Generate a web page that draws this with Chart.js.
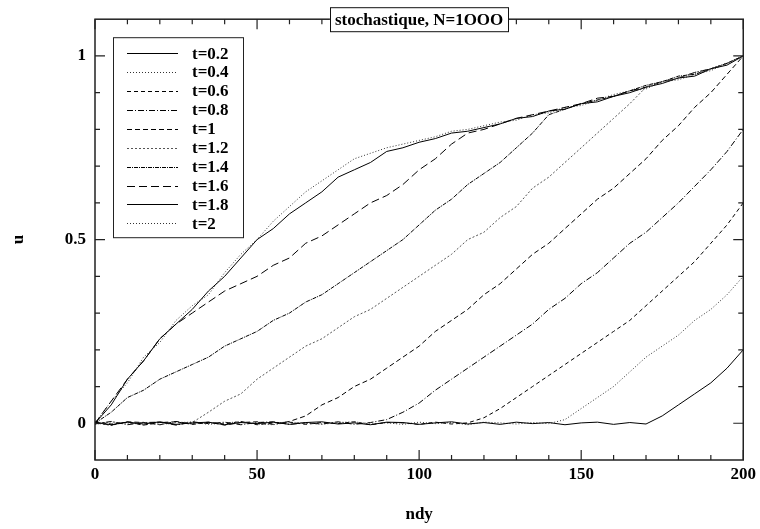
<!DOCTYPE html>
<html>
<head>
<meta charset="utf-8">
<script src="https://cdn.jsdelivr.net/npm/chart.js@4.4.0/dist/chart.umd.min.js"></script>
<style>
  html, body { margin: 0; padding: 0; background: #fff; }
  #wrap { width: 760px; height: 529px; }
</style>
</head>
<body>
<div id="wrap"><canvas id="chart" width="760" height="529"></canvas></div>
<script>
// ndy grid (every 5)
const ndy = [0,5,10,15,20,25,30,35,40,45,50,55,60,65,70,75,80,85,90,95,100,
             105,110,115,120,125,130,135,140,145,150,155,160,165,170,175,180,185,190,195,200];

const labels = ['t=0.2','t=0.4','t=0.6','t=0.8','t=1','t=1.2','t=1.4','t=1.6','t=1.8','t=2'];

const u02 = [0.002,-0.004,0.003,-0.002,0.004,-0.003,0.001,0.003,-0.004,0.002,-0.001,0.003,-0.003,0.002,0.004,
             -0.002,0.001,-0.004,0.003,0.002,-0.003,0.001,0.004,-0.002,0.002,-0.003,0.003,-0.001,0.002,-0.004,
             0.001,0.003,-0.003,0.002,-0.002,0.02,0.05,0.08,0.11,0.15,0.20];
const u04 = [-0.003,0.004,-0.002,0.003,-0.004,0.002,0.003,-0.003,0.001,0.004,-0.002,-0.004,0.003,0.001,-0.003,
             0.002,0.004,-0.002,0.001,-0.003,0.003,-0.001,0.002,-0.004,0.003,0.001,-0.002,0.002,-0.001,
             0.01,0.04,0.07,0.10,0.14,0.18,0.21,0.24,0.28,0.31,0.35,0.40];
const u06 = [0.004,-0.002,0.003,-0.005,0.002,0.004,-0.003,0.002,-0.002,0.005,-0.004,0.001,0.003,-0.003,0.002,
             -0.001,0.004,-0.004,0.002,0.001,-0.003,0.003,-0.002,0.001,
             0.015,0.04,0.07,0.10,0.13,0.16,0.19,0.22,0.25,0.28,0.32,0.36,0.40,0.44,0.49,0.54,0.60];
const u08 = [-0.002,0.005,-0.004,0.002,0.003,-0.005,0.004,-0.001,0.003,-0.004,0.002,0.004,-0.003,0.001,-0.002,
             0.004,-0.003,0.002,
             0.01,0.03,0.055,0.09,0.12,0.15,0.18,0.21,0.24,0.27,0.31,0.34,0.38,0.41,0.45,0.49,0.52,0.56,
             0.60,0.645,0.69,0.74,0.80];
const u10 = [0.003,-0.005,0.004,0.002,-0.004,0.005,-0.002,0.003,-0.005,0.002,0.004,-0.003,
             0.005,0.02,0.05,0.07,0.10,0.12,0.15,0.18,0.21,0.25,0.28,0.31,0.35,0.38,0.42,0.46,0.49,0.53,
             0.57,0.61,0.64,0.68,0.72,0.77,0.81,0.86,0.90,0.95,1.0];
const u12 = [0.001,-0.006,0.004,-0.005,0.003,-0.004,0.002,
             0.03,0.06,0.08,0.12,0.15,0.18,0.21,0.23,0.26,0.29,0.31,0.34,0.37,0.40,0.43,0.46,0.50,0.52,
             0.56,0.59,0.64,0.67,0.71,0.75,0.79,0.83,0.87,0.915,0.93,0.94,0.955,0.965,0.98,1.0];
const u14 = [0,0.03,0.07,0.09,0.12,0.14,0.16,0.18,0.21,0.23,0.25,0.28,0.30,0.33,0.35,0.38,0.41,0.44,0.47,0.50,
             0.54,0.58,0.61,0.65,0.68,0.71,0.75,0.79,0.84,0.855,0.87,0.88,0.89,0.905,0.92,0.93,0.945,0.95,
             0.965,0.98,1.0];
const u16 = [0,0.06,0.12,0.17,0.23,0.27,0.30,0.33,0.36,0.38,0.40,0.43,0.45,0.49,0.51,0.54,0.57,0.60,0.62,0.65,
             0.69,0.72,0.76,0.79,0.80,0.815,0.83,0.84,0.85,0.86,0.87,0.885,0.89,0.905,0.915,0.93,0.94,0.955,
             0.965,0.98,1.0];
const u18 = [0,0.05,0.12,0.17,0.23,0.27,0.31,0.36,0.40,0.45,0.50,0.53,0.57,0.60,0.63,0.67,0.69,0.71,0.74,0.75,
             0.765,0.775,0.79,0.795,0.805,0.815,0.83,0.835,0.85,0.855,0.87,0.875,0.89,0.90,0.915,0.925,0.94,
             0.945,0.965,0.975,1.0];
const u20 = [0,0.06,0.11,0.18,0.22,0.28,0.32,0.35,0.41,0.46,0.50,0.55,0.59,0.63,0.66,0.69,0.72,0.735,0.75,0.76,
             0.77,0.78,0.795,0.80,0.81,0.82,0.825,0.84,0.845,0.86,0.865,0.88,0.895,0.905,0.91,0.93,0.935,0.95,
             0.96,0.98,1.0];

const series = [u02,u04,u06,u08,u10,u12,u14,u16,u18,u20];
const dashes = [[], [1,2], [4,3], [6,2,1,2], [5,3], [2,2], [4,1,1,1], [8,4], [], [1,2]];
const colors = ['#000','#333','#000','#000','#000','#555','#000','#000','#000','#333'];

const FONT = '"Liberation Serif", "Times New Roman", serif';

const datasets = series.map((vals, i) => ({
    label: labels[i],
    data: vals.map((v, j) => ({x: ndy[j], y: v})),
    borderColor: colors[i],
    borderWidth: 1,
    borderDash: dashes[i],
    pointRadius: 0,
    tension: 0,
    fill: false
}));

// frame, inward ticks, legend box and boxed title
const decorPlugin = {
    id: 'decor',
    afterDraw(chart) {
        const ctx = chart.ctx;
        const a = chart.chartArea;
        const xs = chart.scales.x, ys = chart.scales.y;
        ctx.save();
        ctx.strokeStyle = '#222';
        ctx.lineWidth = 1.5;
        ctx.strokeRect(a.left, a.top, a.right - a.left, a.bottom - a.top);

        ctx.lineWidth = 1.2;
        ctx.beginPath();
        for (let v = 0; v <= 200; v += 10) {
            const px = xs.getPixelForValue(v);
            const len = v % 50 === 0 ? 10 : 5;
            ctx.moveTo(px, a.bottom); ctx.lineTo(px, a.bottom - len);
            ctx.moveTo(px, a.top); ctx.lineTo(px, a.top + len);
        }
        for (let k = 0; k <= 10; k++) {
            const v = k / 10;
            const py = ys.getPixelForValue(v);
            const len = k % 5 === 0 ? 10 : 5;
            ctx.moveTo(a.left, py); ctx.lineTo(a.left + len, py);
            ctx.moveTo(a.right, py); ctx.lineTo(a.right - len, py);
        }
        ctx.stroke();

        // legend
        const lx = a.left + 18, ly = a.top + 18, lw = 130, lh = 200;
        ctx.fillStyle = '#fff';
        ctx.fillRect(lx, ly, lw, lh);
        ctx.lineWidth = 1;
        ctx.strokeStyle = '#222';
        ctx.strokeRect(lx + 0.5, ly + 0.5, lw, lh);
        ctx.font = 'bold 17px ' + FONT;
        ctx.textBaseline = 'middle';
        ctx.textAlign = 'left';
        chart.data.datasets.forEach((ds, i) => {
            const y = ly + 16 + i * 18.9;
            ctx.beginPath();
            ctx.setLineDash(ds.borderDash);
            ctx.strokeStyle = ds.borderColor;
            ctx.lineWidth = 1;
            ctx.moveTo(lx + 14, Math.round(y) + 0.5);
            ctx.lineTo(lx + 65, Math.round(y) + 0.5);
            ctx.stroke();
            ctx.setLineDash([]);
            ctx.fillStyle = '#000';
            ctx.fillText(ds.label, lx + 79, y + 1);
        });

        // title
        const title = 'stochastique, N=1OOO';
        ctx.font = 'bold 17px ' + FONT;
        const tw = ctx.measureText(title).width;
        const cx = (a.left + a.right) / 2;
        const bx = cx - tw / 2 - 5, bw = tw + 10, by = a.top - 12, bh = 24;
        ctx.fillStyle = '#fff';
        ctx.fillRect(bx, by, bw, bh);
        ctx.strokeStyle = '#111';
        ctx.lineWidth = 1;
        ctx.strokeRect(Math.round(bx) + 0.5, by + 0.5, Math.round(bw), bh);
        ctx.fillStyle = '#000';
        ctx.textAlign = 'center';
        ctx.fillText(title, cx, a.top + 1);
        ctx.restore();
    }
};

new Chart(document.getElementById('chart'), {
    type: 'line',
    data: { datasets: datasets },
    options: {
        responsive: false,
        animation: false,
        layout: { padding: { top: 19, right: 16, left: 0, bottom: 0 } },
        plugins: {
            legend: { display: false },
            tooltip: { enabled: false },
            title: { display: false }
        },
        scales: {
            x: {
                type: 'linear',
                min: 0,
                max: 200,
                grid: { display: false, drawTicks: false },
                border: { display: false },
                ticks: {
                    stepSize: 50,
                    padding: 4,
                    color: '#000',
                    font: { family: FONT, size: 17, weight: 'bold' },
                    maxRotation: 0
                },
                title: {
                    display: true,
                    text: 'ndy',
                    color: '#000',
                    font: { family: FONT, size: 17, weight: 'bold' },
                    padding: { top: 0, bottom: 4 }
                },
                afterFit(scale) { scale.height = 69; }
            },
            y: {
                type: 'linear',
                min: -0.1,
                max: 1.1,
                grid: { display: false, drawTicks: false },
                border: { display: false },
                afterBuildTicks(scale) {
                    scale.ticks = [0, 0.5, 1].map(v => ({ value: v }));
                },
                ticks: {
                    padding: 9,
                    color: '#000',
                    font: { family: FONT, size: 17, weight: 'bold' },
                    callback: v => String(v)
                },
                title: {
                    display: true,
                    text: 'u',
                    color: '#000',
                    font: { family: FONT, size: 17, weight: 'bold' },
                    padding: { top: 8, bottom: 0 }
                },
                afterFit(scale) { scale.width = 95; }
            }
        }
    },
    plugins: [decorPlugin]
});
</script>
</body>
</html>
